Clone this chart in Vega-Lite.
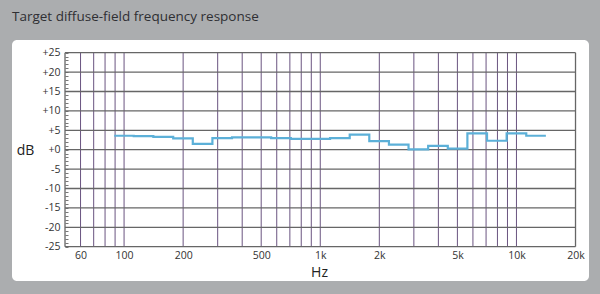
{
  "$schema": "https://vega.github.io/schema/vega-lite/v6.json",
  "width": 577,
  "height": 241,
  "autosize": {"type": "none"},
  "padding": {"left": 12, "top": 40, "right": 11, "bottom": 13},
  "background": "#abadaf",
  "config": {
    "view": {"fill": "#ffffff", "stroke": null, "cornerRadius": 5},
    "font": "Open Sans",
    "axisX": {
      "labelOverlap": false, "labelFlush": false, "labelBound": false,
      "ticks": false, "domain": false, "grid": false,
      "offset": -34.3, "labelPadding": 4,
      "labelFont": "Open Sans", "labelFontSize": 10.5, "labelColor": "#333333",
      "titleFont": "Open Sans", "titleFontSize": 14, "titleFontWeight": "normal", "titleColor": "#222222",
      "titleX": 307, "titleY": 29.5, "titleAlign": "center", "titleBaseline": "alphabetic"
    },
    "axisY": {
      "labelOverlap": false, "labelFlush": false, "labelBound": false,
      "ticks": true, "tickSize": 3, "tickColor": "#777777", "domain": false, "grid": false,
      "offset": -56, "labelPadding": 5,
      "labelFont": "Open Sans", "labelFontSize": 10.5, "labelColor": "#333333",
      "titleFont": "Open Sans", "titleFontSize": 14, "titleFontWeight": "normal", "titleColor": "#222222",
      "titleAngle": 0, "titleX": -43, "titleY": 114, "titleAlign": "center", "titleBaseline": "alphabetic"
    }
  },
  "title": {
    "text": "Target diffuse-field frequency response",
    "anchor": "start",
    "frame": "group",
    "font": "Open Sans",
    "fontSize": 13.5,
    "fontWeight": "normal",
    "color": "#2f2f33",
    "baseline": "alphabetic",
    "offset": 6
  },
  "datasets": {
    "vgrid": [
      {"hz": 60}, {"hz": 70}, {"hz": 80}, {"hz": 90}, {"hz": 100},
      {"hz": 200}, {"hz": 300}, {"hz": 400}, {"hz": 500}, {"hz": 600}, {"hz": 700}, {"hz": 800}, {"hz": 900}, {"hz": 1000},
      {"hz": 2000}, {"hz": 3000}, {"hz": 4000}, {"hz": 5000}, {"hz": 6000}, {"hz": 7000}, {"hz": 8000}, {"hz": 9000}, {"hz": 10000}
    ],
    "edges": [{"hz": 50}, {"hz": 20000}],
    "hgrid": [
      {"db": -25}, {"db": -20}, {"db": -15}, {"db": -10}, {"db": -5}, {"db": 0},
      {"db": 5}, {"db": 10}, {"db": 15}, {"db": 20}, {"db": 25}
    ],
    "response": [
      {"hz": 89.1, "db": 3.6},
      {"hz": 112, "db": 3.5},
      {"hz": 141, "db": 3.3},
      {"hz": 178, "db": 2.9},
      {"hz": 224, "db": 1.5},
      {"hz": 282, "db": 3.0},
      {"hz": 355, "db": 3.2},
      {"hz": 447, "db": 3.2},
      {"hz": 562, "db": 3.0},
      {"hz": 708, "db": 2.8},
      {"hz": 891, "db": 2.8},
      {"hz": 1122, "db": 3.0},
      {"hz": 1413, "db": 3.9},
      {"hz": 1778, "db": 2.2},
      {"hz": 2239, "db": 1.3},
      {"hz": 2818, "db": 0.1},
      {"hz": 3548, "db": 1.0},
      {"hz": 4467, "db": 0.3},
      {"hz": 5623, "db": 4.2},
      {"hz": 7079, "db": 2.3},
      {"hz": 8913, "db": 4.2},
      {"hz": 11220, "db": 3.6},
      {"hz": 14125, "db": 3.6}
    ]
  },
  "layer": [
    {
      "data": {"name": "vgrid"},
      "mark": {"type": "rule", "color": "#6a5480", "strokeWidth": 1},
      "encoding": {
        "x": {
          "field": "hz", "type": "quantitative",
          "scale": {"type": "log", "domain": [26.84, 23430], "nice": false},
          "axis": {"title": "Hz", "values": [60, 100, 200, 500, 1000, 2000, 5000, 10000, 20000], "labelExpr": "datum.value >= 1000 ? (datum.value / 1000) + 'k' : datum.value + ''"}
        },
        "y": {
          "datum": -25, "type": "quantitative",
          "scale": {"domain": [-33.84, 28.27], "nice": false, "zero": false},
          "axis": {"title": "dB", "values": [-25,-24,-23,-22,-21,-20,-19,-18,-17,-16,-15,-14,-13,-12,-11,-10,-9,-8,-7,-6,-5,-4,-3,-2,-1,0,1,2,3,4,5,6,7,8,9,10,11,12,13,14,15,16,17,18,19,20,21,22,23,24,25], "labelExpr": "datum.value % 5 == 0 ? (datum.value >= 0 ? '+' : '-') + abs(datum.value) : ''"}
        },
        "y2": {"datum": 25}
      }
    },
    {
      "data": {"name": "hgrid"},
      "mark": {"type": "rule", "color": "#666666", "strokeWidth": 1.3},
      "encoding": {
        "y": {
          "field": "db", "type": "quantitative",
          "scale": {"domain": [-33.84, 28.27], "nice": false, "zero": false},
          "axis": {"title": "dB", "values": [-25,-24,-23,-22,-21,-20,-19,-18,-17,-16,-15,-14,-13,-12,-11,-10,-9,-8,-7,-6,-5,-4,-3,-2,-1,0,1,2,3,4,5,6,7,8,9,10,11,12,13,14,15,16,17,18,19,20,21,22,23,24,25], "labelExpr": "datum.value % 5 == 0 ? (datum.value >= 0 ? '+' : '-') + abs(datum.value) : ''"}
        },
        "x": {
          "datum": 50, "type": "quantitative",
          "scale": {"type": "log", "domain": [26.84, 23430], "nice": false},
          "axis": {"title": "Hz", "values": [60, 100, 200, 500, 1000, 2000, 5000, 10000, 20000], "labelExpr": "datum.value >= 1000 ? (datum.value / 1000) + 'k' : datum.value + ''"}
        },
        "x2": {"datum": 20000}
      }
    },
    {
      "data": {"name": "edges"},
      "mark": {"type": "rule", "color": "#666666", "strokeWidth": 1.3},
      "encoding": {
        "x": {
          "field": "hz", "type": "quantitative",
          "scale": {"type": "log", "domain": [26.84, 23430], "nice": false},
          "axis": {"title": "Hz", "values": [60, 100, 200, 500, 1000, 2000, 5000, 10000, 20000], "labelExpr": "datum.value >= 1000 ? (datum.value / 1000) + 'k' : datum.value + ''"}
        },
        "y": {
          "datum": -25, "type": "quantitative",
          "scale": {"domain": [-33.84, 28.27], "nice": false, "zero": false},
          "axis": {"title": "dB", "values": [-25,-24,-23,-22,-21,-20,-19,-18,-17,-16,-15,-14,-13,-12,-11,-10,-9,-8,-7,-6,-5,-4,-3,-2,-1,0,1,2,3,4,5,6,7,8,9,10,11,12,13,14,15,16,17,18,19,20,21,22,23,24,25], "labelExpr": "datum.value % 5 == 0 ? (datum.value >= 0 ? '+' : '-') + abs(datum.value) : ''"}
        },
        "y2": {"datum": 25}
      }
    },
    {
      "data": {"name": "response"},
      "mark": {"type": "line", "interpolate": "step-after", "color": "#5cb0d8", "strokeWidth": 2.2},
      "encoding": {
        "x": {
          "field": "hz", "type": "quantitative",
          "scale": {"type": "log", "domain": [26.84, 23430], "nice": false},
          "axis": {"title": "Hz", "values": [60, 100, 200, 500, 1000, 2000, 5000, 10000, 20000], "labelExpr": "datum.value >= 1000 ? (datum.value / 1000) + 'k' : datum.value + ''"}
        },
        "y": {
          "field": "db", "type": "quantitative",
          "scale": {"domain": [-33.84, 28.27], "nice": false, "zero": false},
          "axis": {"title": "dB", "values": [-25,-24,-23,-22,-21,-20,-19,-18,-17,-16,-15,-14,-13,-12,-11,-10,-9,-8,-7,-6,-5,-4,-3,-2,-1,0,1,2,3,4,5,6,7,8,9,10,11,12,13,14,15,16,17,18,19,20,21,22,23,24,25], "labelExpr": "datum.value % 5 == 0 ? (datum.value >= 0 ? '+' : '-') + abs(datum.value) : ''"}
        }
      }
    }
  ]
}
